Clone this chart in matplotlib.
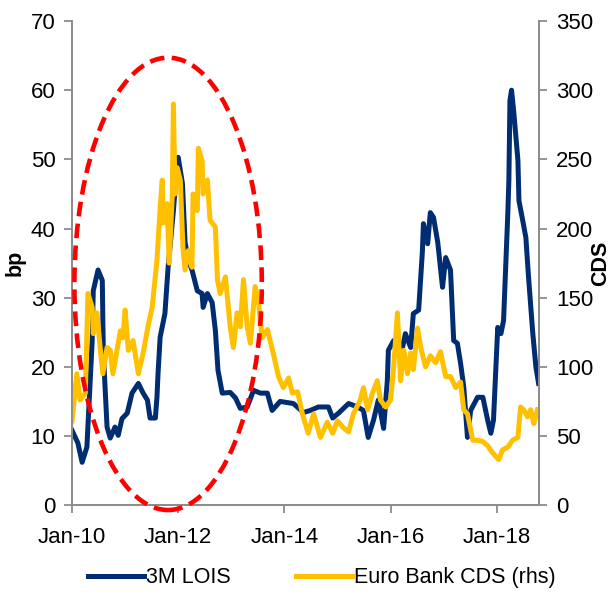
import matplotlib
matplotlib.use("Agg")
import matplotlib.pyplot as plt
from matplotlib.patches import Ellipse
from matplotlib.lines import Line2D

plt.rcParams['font.family'] = ['Liberation Sans', 'DejaVu Sans']

# 3M LOIS (bp, left axis) - x in decimal years
lois_t = [2010.00, 2010.11, 2010.19, 2010.28, 2010.38, 2010.40, 2010.49, 2010.57, 2010.59, 2010.66,
          2010.72, 2010.81, 2010.87, 2010.94, 2011.04, 2011.13, 2011.25, 2011.34, 2011.42, 2011.47,
          2011.57, 2011.60, 2011.62, 2011.66, 2011.75, 2011.81, 2011.91, 2011.94, 2012.00, 2012.08,
          2012.13, 2012.19, 2012.26, 2012.36, 2012.45, 2012.47, 2012.55, 2012.64, 2012.70, 2012.75,
          2012.83, 2012.98, 2013.08, 2013.17, 2013.30, 2013.42, 2013.55, 2013.68, 2013.77, 2013.92,
          2014.17, 2014.36, 2014.49, 2014.64, 2014.83, 2014.91, 2015.02, 2015.21, 2015.38, 2015.49,
          2015.58, 2015.68, 2015.77, 2015.87, 2015.94, 2015.96, 2016.06, 2016.19, 2016.28, 2016.38,
          2016.43, 2016.53, 2016.60, 2016.62, 2016.70, 2016.75, 2016.81, 2016.89, 2016.94, 2016.98,
          2017.04, 2017.13, 2017.19, 2017.26, 2017.32, 2017.38, 2017.45, 2017.51, 2017.64, 2017.74,
          2017.83, 2017.89, 2017.94, 2018.02, 2018.08, 2018.13, 2018.21, 2018.23, 2018.25, 2018.28,
          2018.32, 2018.40, 2018.42, 2018.49, 2018.55, 2018.60, 2018.68, 2018.74, 2018.79]
lois = [10.8, 9.0, 6.2, 8.4, 23.8, 31.0, 34.0, 32.5, 22.0, 11.3,
        9.7, 11.3, 10.1, 12.5, 13.3, 16.2, 17.6, 16.2, 15.2, 12.6,
        12.6, 15.6, 19.0, 24.3, 27.7, 34.4, 42.6, 45.5, 50.3, 46.5,
        38.0, 35.4, 34.0, 31.0, 30.6, 28.6, 30.6, 29.3, 25.3, 19.5,
        16.2, 16.3, 15.5, 14.0, 14.2, 16.6, 16.2, 16.2, 13.7, 15.0,
        14.7, 13.4, 13.7, 14.2, 14.2, 12.6, 13.3, 14.7, 14.2, 13.7,
        9.8, 12.3, 15.2, 11.1, 18.0, 22.4, 23.8, 21.4, 24.8, 22.8,
        27.7, 28.2, 36.6, 40.7, 37.8, 42.3, 41.6, 38.0, 34.4, 31.5,
        35.8, 34.0, 23.8, 23.4, 20.5, 17.1, 9.8, 13.7, 15.6, 15.6,
        12.3, 10.4, 12.3, 25.7, 24.8, 26.7, 42.2, 47.0, 58.5, 60.0,
        57.0, 49.9, 44.0, 41.2, 38.7, 33.0, 24.9, 19.9, 17.6]

# Euro Bank CDS (right axis)
cds_t = [2010.00, 2010.09, 2010.15, 2010.25, 2010.30, 2010.38, 2010.40, 2010.47, 2010.53, 2010.58,
         2010.66, 2010.72, 2010.77, 2010.91, 2010.96, 2011.00, 2011.06, 2011.15, 2011.25, 2011.34,
         2011.43, 2011.51, 2011.60, 2011.66, 2011.70, 2011.72, 2011.79, 2011.83, 2011.89, 2011.91,
         2011.94, 2011.98, 2012.04, 2012.09, 2012.13, 2012.19, 2012.26, 2012.28, 2012.36, 2012.38,
         2012.45, 2012.47, 2012.55, 2012.60, 2012.70, 2012.74, 2012.79, 2012.89, 2012.98, 2013.04,
         2013.11, 2013.17, 2013.23, 2013.30, 2013.36, 2013.45, 2013.51, 2013.58, 2013.68, 2013.79,
         2013.89, 2013.98, 2014.08, 2014.15, 2014.25, 2014.34, 2014.45, 2014.55, 2014.68, 2014.81,
         2014.91, 2015.00, 2015.11, 2015.21, 2015.30, 2015.43, 2015.49, 2015.57, 2015.66, 2015.75,
         2015.81, 2015.91, 2016.00, 2016.06, 2016.13, 2016.19, 2016.25, 2016.32, 2016.38, 2016.43,
         2016.51, 2016.57, 2016.66, 2016.75, 2016.85, 2016.94, 2017.04, 2017.13, 2017.23, 2017.32,
         2017.38, 2017.45, 2017.55, 2017.64, 2017.74, 2017.83, 2017.92, 2018.04, 2018.11, 2018.21,
         2018.30, 2018.40, 2018.45, 2018.51, 2018.58, 2018.64, 2018.70, 2018.77]
cds = [61, 95, 76, 81, 153, 143, 124, 139, 114, 95,
       114, 112, 95, 126, 121, 141, 112, 119, 95, 110,
       129, 143, 177, 215, 235, 204, 218, 175, 225, 290,
       225, 244, 235, 186, 170, 184, 172, 225, 213, 258,
       249, 225, 235, 206, 201, 163, 153, 165, 129, 114,
       139, 129, 163, 129, 117, 158, 148, 121, 127, 110,
       93, 85, 92, 81, 82, 66, 52, 66, 49, 60,
       52, 61, 56, 53, 66, 76, 85, 69, 81, 90,
       76, 71, 76, 100, 139, 90, 112, 95, 110, 98,
       128, 114, 100, 108, 103, 111, 93, 93, 85, 89,
       69, 66, 47, 47, 46, 43, 38, 33, 40, 42,
       47, 49, 71, 69, 64, 69, 59, 69]

tick_years = [2010, 2012, 2014, 2016, 2018]
tick_labels = ['Jan-10', 'Jan-12', 'Jan-14', 'Jan-16', 'Jan-18']

navy = '#002D72'
gold = '#FFC000'
grey = '#8C8C8C'

fig = plt.figure(figsize=(6.13, 6.0), dpi=100)
ax = fig.add_axes([0.1175, 0.158, 0.762, 0.807])
ax2 = ax.twinx()

ax.plot(lois_t, lois, color=navy, lw=3.6, solid_joinstyle='round')
ax2.plot(cds_t, cds, color=gold, lw=3.6, solid_joinstyle='round')

ax.set_xlim(2010, 2018.8)
ax.set_ylim(0, 70)
ax2.set_ylim(0, 350)
ax.set_yticks(range(0, 71, 10))
ax2.set_yticks(range(0, 351, 50))
ax.set_xticks(tick_years)
ax.set_xticklabels(tick_labels)

for a in (ax, ax2):
    for s in a.spines.values():
        s.set_color(grey)
        s.set_linewidth(1.3)
    a.spines['top'].set_visible(False)
    a.tick_params(colors=grey, labelcolor='black', labelsize=16, length=6, width=1.3)
ax.tick_params(axis='x', pad=10)
ax.tick_params(axis='y', pad=6)
ax2.tick_params(axis='y', pad=6)

ax.set_ylabel('bp', fontsize=15.5, fontweight='bold')
ax.yaxis.set_label_coords(-0.1, 0.5)
ax2.set_ylabel('CDS', fontsize=15.5, fontweight='bold', labelpad=-2)

# red dashed ellipse highlighting 2011-2012
ell = Ellipse((2011.81, 160), 3.53, 327, fill=False, edgecolor='#FF0000', lw=3.3,
              linestyle=(0, (3.2, 1.6)), clip_on=False, zorder=5)
ax2.add_patch(ell)

handles = [Line2D([], [], color=navy, lw=3.6), Line2D([], [], color=gold, lw=3.6)]
fig.legend(handles, ['3M LOIS', 'Euro Bank CDS (rhs)'], loc='center', bbox_to_anchor=(0.525, 0.037),
           ncol=2, frameon=False, fontsize=15.5, handlelength=2.6, handletextpad=0.1, columnspacing=3.0)

fig.savefig('out.png', dpi=100)
